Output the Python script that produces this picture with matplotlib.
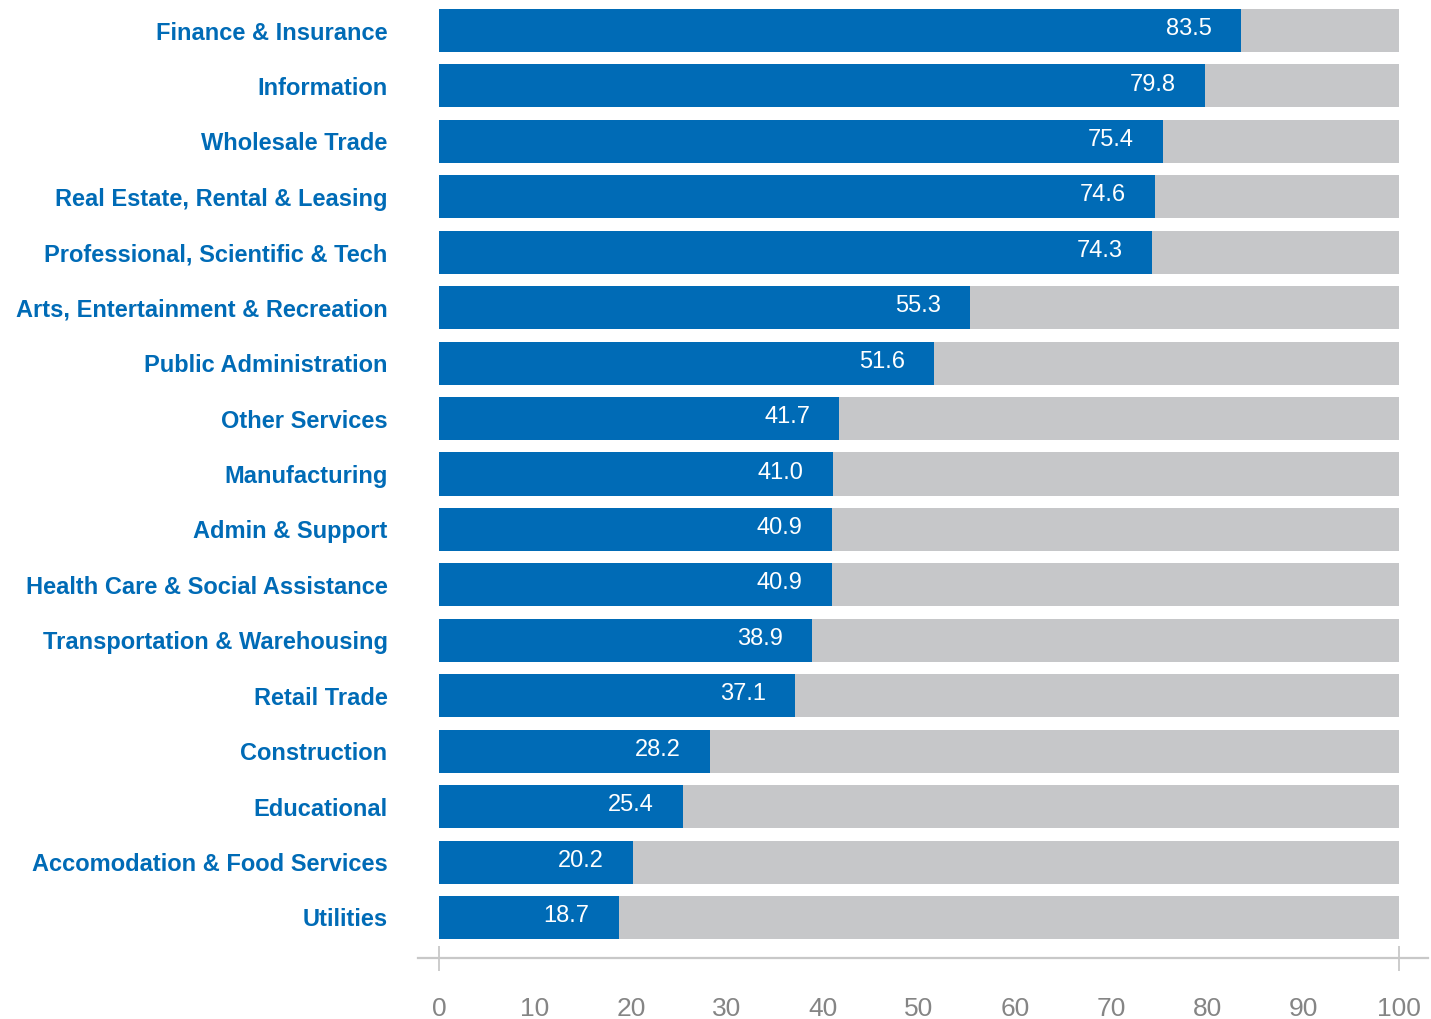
import matplotlib.pyplot as plt

categories = ["Finance & Insurance", "Information", "Wholesale Trade",
              "Real Estate, Rental & Leasing", "Professional, Scientific & Tech",
              "Arts, Entertainment & Recreation", "Public Administration",
              "Other Services", "Manufacturing", "Admin & Support",
              "Health Care & Social Assistance", "Transportation & Warehousing",
              "Retail Trade", "Construction", "Educational",
              "Accomodation & Food Services", "Utilities"]
values = [83.5, 79.8, 75.4, 74.6, 74.3, 55.3, 51.6, 41.7, 41.0, 40.9,
          40.9, 38.9, 37.1, 28.2, 25.4, 20.2, 18.7]
total = [100] * len(values)
x_ticks = list(range(0, 101, 10))

blue = "#006bb6"
grey = "#c6c7c9"

plt.rcParams['font.family'] = ['Liberation Sans', 'DejaVu Sans']

fig = plt.figure(figsize=(14.31, 10.19), dpi=100)
ax = fig.add_axes([439 / 1431, 1 - 939 / 1019, 960 / 1431, 930 / 1019])

pos = list(range(len(categories)))
ax.barh(pos, total, height=0.776, color=grey)
bars = ax.barh(pos, values, height=0.776, color=blue)

for b, v in zip(bars, values):
    ax.annotate(f"{v:.1f}", (b.get_width(), b.get_y() + b.get_height() / 2),
                xytext=(-21, 1), textcoords="offset points",
                ha="right", va="center", color="white", fontsize=17)

ax.set_ylim(len(categories) - 1 + 0.388, -0.388)
ax.set_xlim(0, 100)

ax.set_yticks(pos)
ax.set_yticklabels(categories, fontsize=17, fontweight="bold", color=blue)
ax.tick_params(axis="y", length=0, pad=37)

ax.set_xticks(x_ticks)
ax.tick_params(axis="x", length=0, pad=28, labelsize=19, labelcolor="#858585")
ax.xaxis.remove_overlapping_locs = False
ax.set_xticks([0, 100], minor=True)
ax.tick_params(axis="x", which="minor", direction="inout", length=18,
               width=1.3, color="#c8c8c8")

for s in ["top", "right", "left"]:
    ax.spines[s].set_visible(False)
ax.spines["bottom"].set_position(("outward", 14))
ax.spines["bottom"].set_bounds(-2.2, 103)
ax.spines["bottom"].set_color("#c8c8c8")
ax.spines["bottom"].set_linewidth(1.6)

plt.savefig("out.png", dpi=100)
